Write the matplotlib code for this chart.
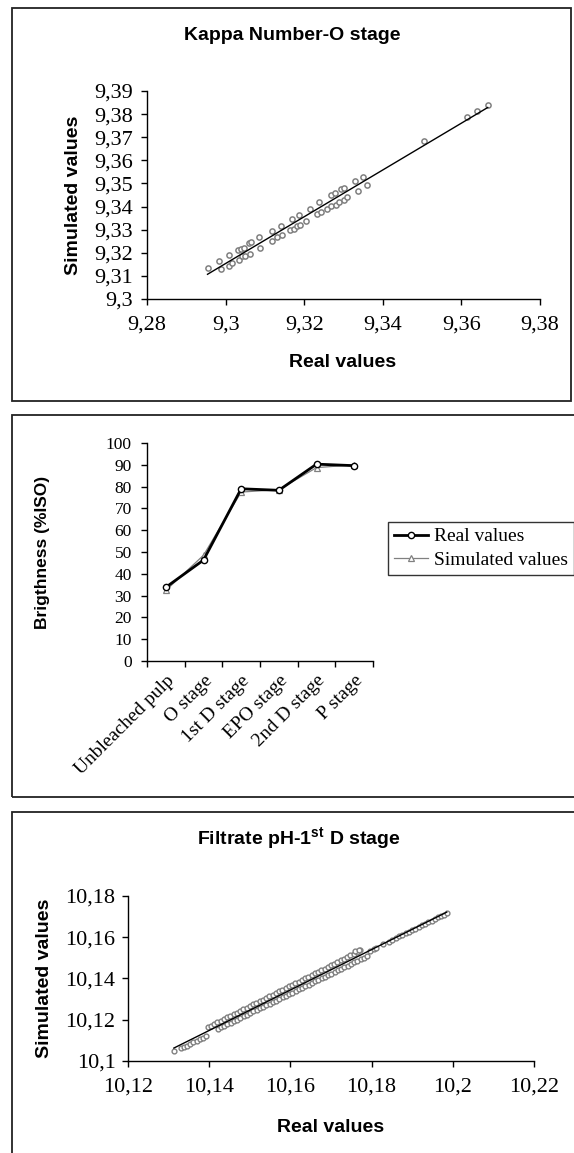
import matplotlib
matplotlib.use("Agg")
import matplotlib.pyplot as plt
from matplotlib.patches import Rectangle
from matplotlib.ticker import FixedLocator, FuncFormatter
import numpy as np

plt.rcParams["mathtext.fontset"] = "custom"
plt.rcParams["mathtext.bf"] = "Liberation Sans:bold"
plt.rcParams["mathtext.rm"] = "Liberation Sans"

SERIF = "Liberation Serif"
SANS = "Liberation Sans"

# ---------------------------------------------------------------------
# Data
# ---------------------------------------------------------------------
# Kappa number, O stage: real vs simulated
kappa_real = [
    9.2954, 9.2982, 9.2989, 9.3008, 9.3008, 9.3016, 9.3031, 9.3034, 9.3038,
    9.3043, 9.3046, 9.3050, 9.3060, 9.3063, 9.3065, 9.3085, 9.3087, 9.3117,
    9.3118, 9.3132, 9.3141, 9.3144, 9.3165, 9.3168, 9.3174, 9.3181, 9.3186,
    9.3190, 9.3205, 9.3214, 9.3232, 9.3237, 9.3244, 9.3258, 9.3267, 9.3268,
    9.3278, 9.3280, 9.3288, 9.3294, 9.3300, 9.3302, 9.3310, 9.3328, 9.3337,
    9.3349, 9.3359, 9.3506, 9.3613, 9.3639, 9.3667,
]
kappa_sim = [
    9.3136, 9.3163, 9.3129, 9.3189, 9.3143, 9.3155, 9.3212, 9.3169, 9.3215,
    9.3184, 9.3221, 9.3188, 9.3241, 9.3195, 9.3246, 9.3267, 9.3221, 9.3293,
    9.3253, 9.3267, 9.3318, 9.3279, 9.3299, 9.3345, 9.3303, 9.3318, 9.3364,
    9.3322, 9.3338, 9.3390, 9.3366, 9.3418, 9.3377, 9.3390, 9.3403, 9.3449,
    9.3457, 9.3408, 9.3420, 9.3474, 9.3481, 9.3429, 9.3441, 9.3509, 9.3468,
    9.3527, 9.3494, 9.3684, 9.3789, 9.3815, 9.3840,
]

# Brightness along the bleaching sequence
stages = ["Unbleached pulp", "O stage", "1st D stage", "EPO stage",
          "2nd D stage", "P stage"]
bright_real = [33.8, 46.3, 79.0, 78.3, 90.3, 89.6]
bright_sim = [32.4, 48.5, 77.5, 78.6, 88.7, 90.0]

# Filtrate pH, 1st D stage: real vs simulated
ph_real = [
    # lower tail
    10.1313, 10.1330, 10.1337, 10.1345, 10.1353, 10.1361, 10.1369, 10.1377,
    10.1385, 10.1392,
    # upper streak
    10.1396, 10.1404, 10.1412, 10.1420, 10.1428, 10.1436, 10.1444, 10.1452,
    10.1460, 10.1468, 10.1476, 10.1484, 10.1492, 10.1500, 10.1508, 10.1516,
    10.1524, 10.1532, 10.1540, 10.1548, 10.1556, 10.1564, 10.1572, 10.1580,
    10.1588, 10.1596, 10.1604, 10.1612, 10.1620, 10.1628, 10.1636, 10.1644,
    10.1652, 10.1660, 10.1668, 10.1676, 10.1684, 10.1692, 10.1700, 10.1708,
    10.1716, 10.1724, 10.1732, 10.1740, 10.1748, 10.1756, 10.1764, 10.1772,
    10.1760, 10.1768,
    # lower streak
    10.1421, 10.1429, 10.1437, 10.1445, 10.1453, 10.1461, 10.1469, 10.1477,
    10.1485, 10.1493, 10.1501, 10.1509, 10.1517, 10.1525, 10.1533, 10.1541,
    10.1549, 10.1557, 10.1565, 10.1573, 10.1581, 10.1589, 10.1597, 10.1605,
    10.1613, 10.1621, 10.1629, 10.1637, 10.1645, 10.1653, 10.1661, 10.1669,
    10.1677, 10.1685, 10.1693, 10.1701, 10.1709, 10.1717, 10.1725, 10.1733,
    10.1741, 10.1749, 10.1757, 10.1765, 10.1773, 10.1781, 10.1789,
    # upper range
    10.1795, 10.1805, 10.1812, 10.1828, 10.1842, 10.1850, 10.1860, 10.1868,
    10.1876, 10.1884, 10.1892, 10.1900, 10.1908, 10.1916, 10.1924, 10.1932,
    10.1940, 10.1948, 10.1956, 10.1964, 10.1970, 10.1978, 10.1985,
]
ph_sim = [
    10.1050, 10.1062, 10.1068, 10.1075, 10.1083, 10.1090, 10.1098, 10.1106,
    10.1113, 10.1121,
    10.1164, 10.1172, 10.1180, 10.1188, 10.1196, 10.1204, 10.1211, 10.1219,
    10.1227, 10.1235, 10.1243, 10.1251, 10.1259, 10.1267, 10.1275, 10.1283,
    10.1290, 10.1298, 10.1306, 10.1314, 10.1322, 10.1330, 10.1338, 10.1346,
    10.1354, 10.1362, 10.1369, 10.1377, 10.1385, 10.1393, 10.1401, 10.1409,
    10.1417, 10.1425, 10.1433, 10.1441, 10.1448, 10.1456, 10.1464, 10.1472,
    10.1480, 10.1488, 10.1496, 10.1504, 10.1512, 10.1520, 10.1528, 10.1536,
    10.1533, 10.1540,
    10.1155, 10.1163, 10.1170, 10.1178, 10.1186, 10.1193, 10.1201, 10.1209,
    10.1217, 10.1224, 10.1232, 10.1240, 10.1247, 10.1255, 10.1263, 10.1270,
    10.1278, 10.1286, 10.1293, 10.1301, 10.1309, 10.1317, 10.1324, 10.1332,
    10.1340, 10.1347, 10.1355, 10.1363, 10.1370, 10.1378, 10.1386, 10.1393,
    10.1401, 10.1409, 10.1417, 10.1424, 10.1432, 10.1440, 10.1447, 10.1455,
    10.1463, 10.1470, 10.1478, 10.1486, 10.1493, 10.1501, 10.1509,
    10.1531, 10.1542, 10.1548, 10.1565, 10.1578, 10.1586, 10.1596, 10.1604,
    10.1611, 10.1619, 10.1627, 10.1634, 10.1642, 10.1650, 10.1657, 10.1665,
    10.1673, 10.1680, 10.1688, 10.1696, 10.1702, 10.1710, 10.1718,
]

kappa_xticks = [9.28, 9.30, 9.32, 9.34, 9.36, 9.38]
kappa_yticks = [9.30, 9.31, 9.32, 9.33, 9.34, 9.35, 9.36, 9.37, 9.38, 9.39]
bright_yticks = list(range(0, 101, 10))
ph_xticks = [10.12, 10.14, 10.16, 10.18, 10.20, 10.22]
ph_yticks = [10.10, 10.12, 10.14, 10.16, 10.18]

# ---------------------------------------------------------------------
W, H = 574, 1153
fig = plt.figure(figsize=(W / 100, H / 100), dpi=100)


def add_axes_px(left, top, right, bottom):
    """Axes from pixel edges (top-left origin)."""
    return fig.add_axes(
        [left / W, 1 - bottom / H, (right - left) / W, (bottom - top) / H]
    )


def add_frame(left, top, right, bottom):
    fig.patches.append(
        Rectangle(
            (left / W, 1 - bottom / H),
            (right - left) / W,
            (bottom - top) / H,
            transform=fig.transFigure,
            fill=False,
            edgecolor="#222222",
            linewidth=1.3,
        )
    )


def comma_fmt(v, pos=None):
    s = f"{v:.2f}".rstrip("0").rstrip(".")
    return s.replace(".", ",")


def style_axes(ax, tick_size, xpad, ypad):
    for side in ["top", "right"]:
        ax.spines[side].set_visible(False)
    for side in ["left", "bottom"]:
        ax.spines[side].set_linewidth(1.0)
        ax.spines[side].set_color("black")
    ax.tick_params(direction="out", length=4, width=1, labelsize=tick_size)
    ax.tick_params(axis="x", pad=xpad)
    ax.tick_params(axis="y", pad=ypad)
    for lab in ax.get_xticklabels() + ax.get_yticklabels():
        lab.set_fontfamily(SERIF)


# =====================================================================
# Panel 1: Kappa number
# =====================================================================
add_frame(12, 8, 571, 401)
ax1 = add_axes_px(147, 91, 540, 299)
ax1.scatter(kappa_real, kappa_sim, s=14, facecolors="white",
            edgecolors="#808080", linewidths=1.1, zorder=2)
k = np.polyfit(kappa_real, kappa_sim, 1)
kx = np.array([min(kappa_real), max(kappa_real)])
ax1.plot(kx, np.polyval(k, kx), color="black", lw=1.0, zorder=3)
ax1.set_xlim(9.28, 9.38)
ax1.set_ylim(9.30, 9.39)
ax1.xaxis.set_major_locator(FixedLocator(kappa_xticks))
ax1.yaxis.set_major_locator(FixedLocator(kappa_yticks))
ax1.xaxis.set_major_formatter(FuncFormatter(comma_fmt))
ax1.yaxis.set_major_formatter(FuncFormatter(comma_fmt))
style_axes(ax1, 16, 8, 6)
fig.text(292 / W, 1 - 35 / H, "Kappa Number-O stage", ha="center",
         va="center", fontsize=14, fontweight="bold", family=SANS)
fig.text(343 / W, 1 - 363 / H, "Real values", ha="center", va="center",
         fontsize=14, fontweight="bold", family=SANS)
fig.text(73 / W, 1 - 195 / H, "Simulated values", ha="center",
         va="center", rotation=90, fontsize=14, fontweight="bold",
         family=SANS)

# =====================================================================
# Panel 2: Brightness
# =====================================================================
add_frame(12, 415, 640, 797)
ax2 = add_axes_px(147, 443, 373, 661)
xpos = np.arange(len(stages))
ax2.plot(xpos, bright_real, color="black", lw=2.0, marker="o",
         markersize=4.5, markerfacecolor="white", markeredgecolor="black",
         markeredgewidth=1.0, label="Real values", zorder=3)
ax2.plot(xpos, bright_sim, color="#808080", lw=0.9, marker="^",
         markersize=5, markerfacecolor="white", markeredgecolor="#808080",
         markeredgewidth=0.9, label="Simulated values", zorder=2)
ax2.set_xlim(-0.5, len(stages) - 0.5)
ax2.set_ylim(0, 100)
ax2.set_xticks(np.arange(len(stages) + 1) - 0.5)
ax2.set_xticklabels([])
ax2.set_xticks(xpos, minor=True)
ax2.set_xticklabels(stages, minor=True, rotation=45, ha="right",
                    va="top", rotation_mode="anchor")
ax2.set_yticks(bright_yticks)
style_axes(ax2, 12.5, 3, 7)
ax2.tick_params(axis="x", which="minor", length=0, pad=8, labelsize=14)
for lab in ax2.get_xticklabels(minor=True):
    lab.set_fontfamily(SERIF)
fig.text(43 / W, 1 - 552 / H, "Brigthness (%ISO)", ha="center",
         va="center", rotation=90, fontsize=12.5, fontweight="bold",
         family=SANS)
leg = ax2.legend(
    loc="upper left",
    bbox_to_anchor=(388 / W, 1 - 522 / H),
    bbox_transform=fig.transFigure,
    prop={"family": SERIF, "size": 14},
    frameon=True,
    fancybox=False,
    borderaxespad=0,
    borderpad=0.3,
    handlelength=1.75,
    handletextpad=0.3,
    labelspacing=0.3,
)
leg.get_frame().set_edgecolor("black")
leg.get_frame().set_linewidth(1.0)

# =====================================================================
# Panel 3: Filtrate pH
# =====================================================================
add_frame(12, 812, 640, 1200)
ax3 = add_axes_px(128, 896, 534, 1061)
ax3.scatter(ph_real, ph_sim, s=12, facecolors="white",
            edgecolors="#808080", linewidths=1.0, zorder=2)
p = np.polyfit(ph_real, ph_sim, 1)
px = np.array([min(ph_real), max(ph_real)])
ax3.plot(px, np.polyval(p, px), color="black", lw=1.0, zorder=3)
ax3.set_xlim(10.12, 10.22)
ax3.set_ylim(10.10, 10.18)
ax3.xaxis.set_major_locator(FixedLocator(ph_xticks))
ax3.yaxis.set_major_locator(FixedLocator(ph_yticks))
ax3.xaxis.set_major_formatter(FuncFormatter(comma_fmt))
ax3.yaxis.set_major_formatter(FuncFormatter(comma_fmt))
style_axes(ax3, 16, 8, 5)
fig.text(299 / W, 1 - 839 / H, r"Filtrate pH-1$^{\mathbf{st}}$ D stage",
         ha="center", va="center", fontsize=14, fontweight="bold",
         family=SANS)
fig.text(331 / W, 1 - 1127 / H, "Real values", ha="center", va="center",
         fontsize=14, fontweight="bold", family=SANS)
fig.text(45 / W, 1 - 978 / H, "Simulated values", ha="center",
         va="center", rotation=90, fontsize=14, fontweight="bold",
         family=SANS)

fig.savefig("out.png", dpi=100, facecolor="white")
